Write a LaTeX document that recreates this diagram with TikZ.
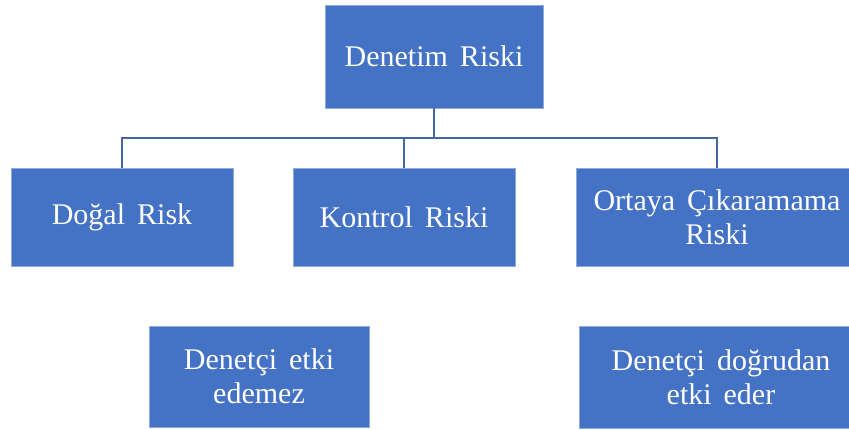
\documentclass[tikz,border=0pt]{standalone}
\usepackage{fontspec}
\setmainfont{Liberation Serif}
\definecolor{boxblue}{HTML}{4472C4}
\definecolor{boxedge}{HTML}{8FAADC}
\definecolor{linkblue}{HTML}{44679F}
\newcommand\riskfont{\fontsize{30}{34}\selectfont\spaceskip=12pt plus 3pt\relax}
\begin{document}
\begin{tikzpicture}[x=1pt,y=-1pt,
  riskbox/.style={rectangle, fill=boxblue, draw=boxedge, line width=0.8pt,
    inner sep=0pt, align=center, text=white, font=\riskfont},
  link/.style={draw=linkblue, line width=1.7pt}]
\useasboundingbox (0,0) rectangle (849,430);
\fill[white] (0,0) rectangle (849,430);

\node[riskbox, minimum width=218pt, minimum height=103pt] (top) at (434,56.5) {Denetim Riski};
\node[riskbox, minimum width=222pt, minimum height=98pt] (dogal) at (122,217) {Doğal Risk};
\node[riskbox, minimum width=222pt, minimum height=98pt] (kontrol) at (404,217) {Kontrol Riski};
\node[riskbox, minimum width=282pt, minimum height=98pt] (ortaya) at (717,217) {Ortaya Çıkaramama\\Riski};
\node[riskbox, minimum width=220pt, minimum height=101pt] (edemez) at (259,376.5) {Denetçi etki\\edemez};
\node[riskbox, minimum width=284pt, minimum height=102pt] (eder) at (721,377) {Denetçi doğrudan\\etki eder};

\coordinate (bus) at (0,138);
\draw[link] (top.south) -- (top.south |- bus) -| (dogal.north);
\draw[link] (top.south |- bus) -| (kontrol.north);
\draw[link] (top.south |- bus) -| (ortaya.north);
\end{tikzpicture}
\end{document}
